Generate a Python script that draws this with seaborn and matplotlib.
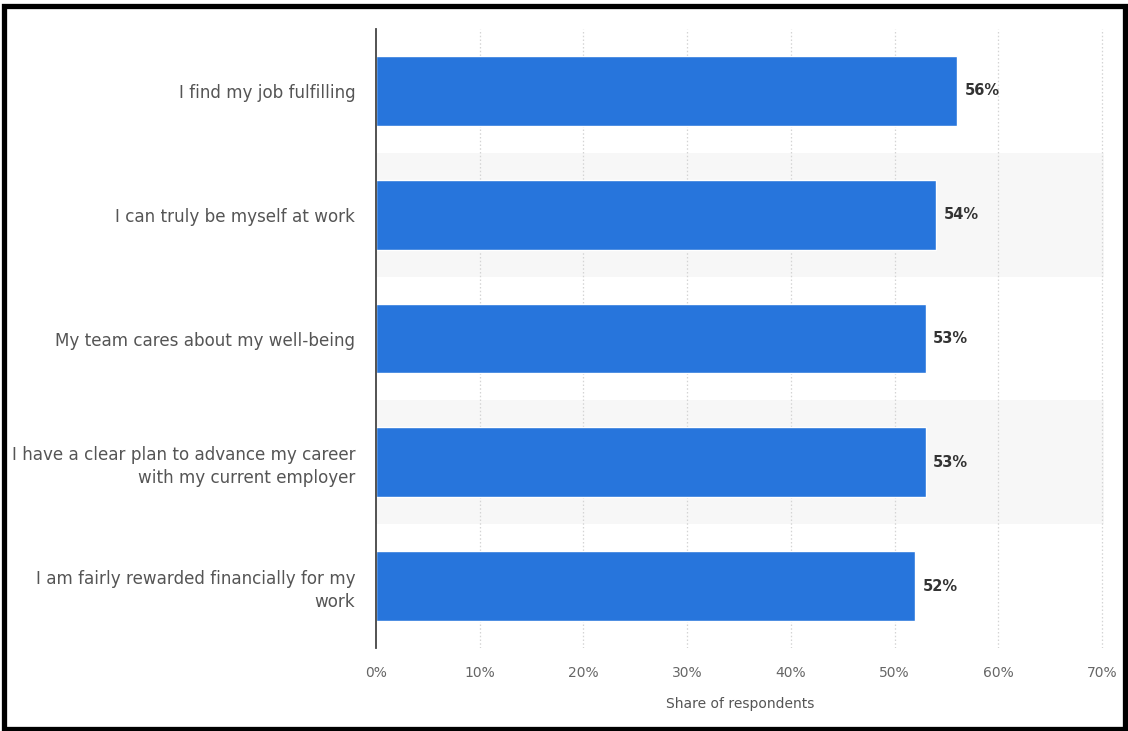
import matplotlib
matplotlib.use('Agg')
import matplotlib.pyplot as plt
import matplotlib.patches as patches
import pandas as pd
import seaborn as sns

statements = ['I find my job fulfilling',
              'I can truly be myself at work',
              'My team cares about my well-being',
              'I have a clear plan to advance my career\nwith my current employer',
              'I am fairly rewarded financially for my\nwork']
shares = [56, 54, 53, 53, 52]
ticks = [0, 10, 20, 30, 40, 50, 60, 70]
tick_labels = ['0%', '10%', '20%', '30%', '40%', '50%', '60%', '70%']

df = pd.DataFrame({'Statement': statements, 'Share': shares})

sns.set_style('white')
plt.rcParams['font.family'] = ['DejaVu Sans']

fig = plt.figure(figsize=(11.28, 7.31), dpi=100)
ax = fig.add_axes([376 / 1128, 1 - 648 / 731, (1104 - 376) / 1128, (648 - 29) / 731])

# alternating row bands
for i in range(len(statements)):
    if i % 2 == 1:
        ax.axhspan(i - 0.5, i + 0.5, color='#f7f7f7', zorder=0, lw=0)

for t in ticks[1:]:
    ax.axvline(t, color='#d4d4d4', lw=0.9, ls=(0, (1.2, 1.8)), zorder=0.5)

sns.barplot(data=df, x='Share', y='Statement', orient='h', color='#2775dc',
            width=0.565, saturation=1, ax=ax, zorder=2)

ax.bar_label(ax.containers[0], labels=[f'{v}%' for v in shares], padding=5.5,
             fontsize=10.5, color='#333333', fontweight='semibold')

ax.set_xlim(0, 70.2)
ax.set_ylim(4.5, -0.5)
ax.set_xticks(ticks)
ax.set_xticklabels(tick_labels)
ax.set_xlabel('Share of respondents', fontsize=10, color='#555555', labelpad=12)
ax.set_ylabel('')
ax.tick_params(axis='x', length=0, pad=13, labelsize=10, labelcolor='#666666')
ax.tick_params(axis='y', length=0, pad=15, labelsize=12.1, labelcolor='#555555')
for lbl in ax.get_yticklabels():
    lbl.set_linespacing(1.35)

for side in ['top', 'right', 'bottom']:
    ax.spines[side].set_visible(False)
ax.spines['left'].set_color('#444444')
ax.spines['left'].set_linewidth(1.3)
ax.spines['left'].set_zorder(3)

# black frame around the screenshot
frame = patches.Rectangle((3.5 / 1128, 2.5 / 731), 1121 / 1128, 723 / 731,
                          transform=fig.transFigure, fill=False,
                          edgecolor='black', lw=3.8)
fig.patches.append(frame)

fig.savefig('out.png', dpi=100)
